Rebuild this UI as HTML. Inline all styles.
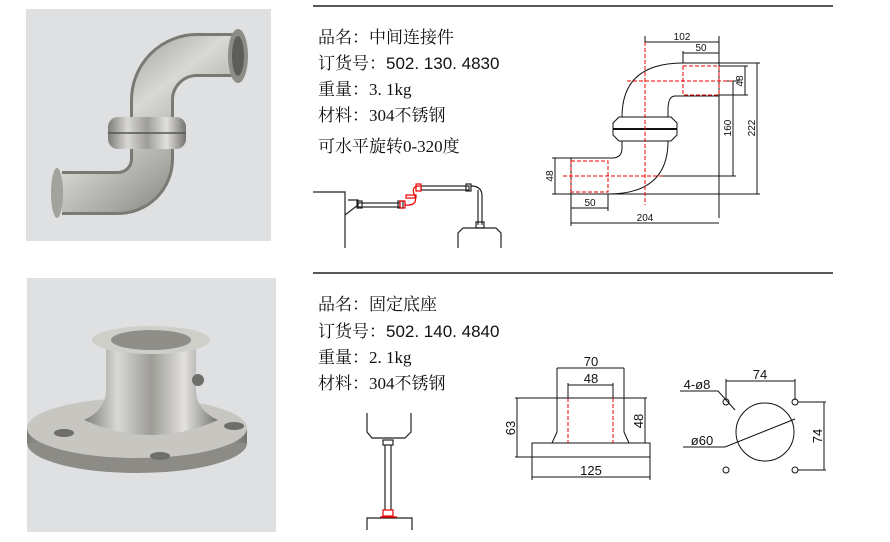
<!DOCTYPE html>
<html><head><meta charset="utf-8"><style>
html,body{margin:0;padding:0;background:#fff;}
body{width:890px;height:542px;position:relative;overflow:hidden;font-family:"Liberation Serif","Noto Serif CJK SC","Noto Sans CJK SC",serif;}
.t{position:absolute;left:318px;font-size:17px;color:#111;white-space:nowrap;line-height:19px;}
.t b{font-family:"Liberation Sans",sans-serif;font-weight:normal;}
</style></head><body>
<svg width="890" height="542" style="position:absolute;left:0;top:0" font-family="Liberation Sans, sans-serif">
<defs>
<linearGradient id="pg" x1="0" y1="0" x2="1" y2="1"><stop offset="0" stop-color="#8a8a88"/><stop offset=".4" stop-color="#d8d8d4"/><stop offset=".7" stop-color="#a8a7a2"/><stop offset="1" stop-color="#6f6e6a"/></linearGradient>
<linearGradient id="hg" x1="0" y1="0" x2="1" y2="0"><stop offset="0" stop-color="#7d7c78"/><stop offset=".25" stop-color="#d9d8d4"/><stop offset=".5" stop-color="#9d9c97"/><stop offset=".75" stop-color="#e2e1dd"/><stop offset="1" stop-color="#74736f"/></linearGradient>
</defs>
<line x1="313" y1="6" x2="833" y2="6" stroke="#222" stroke-width="1.5"/>
<line x1="313" y1="273" x2="833" y2="273" stroke="#222" stroke-width="1.5"/>
<!-- photo 1 -->
<rect x="26" y="9" width="245" height="232" fill="#dfe0e2"/>
<path d="M62 193 H118 A34 34 0 0 0 152 159 V100 A45 45 0 0 1 197 55 H238" fill="none" stroke="#7a7974" stroke-width="44"/>
<path d="M62 193 H118 A34 34 0 0 0 152 159 V100 A45 45 0 0 1 197 55 H238" fill="none" stroke="url(#pg)" stroke-width="38"/>
<ellipse cx="238" cy="56" rx="10" ry="27" fill="#8d8c87"/><ellipse cx="238" cy="56" rx="6" ry="20" fill="#5e5d59"/>
<ellipse cx="57" cy="193" rx="6" ry="25" fill="#a3a29d"/>
<rect x="108" y="117" width="78" height="32" rx="10" fill="url(#hg)"/>
<line x1="108" y1="133" x2="186" y2="133" stroke="#555" stroke-width="1.5"/>
<!-- photo 2 -->
<rect x="27" y="278" width="249" height="254" fill="#dfe0e2"/>
<ellipse cx="137" cy="443" rx="110" ry="30" fill="#8c8b86"/>
<rect x="27" y="428" width="220" height="15" fill="url(#hg)"/>
<ellipse cx="137" cy="428" rx="110" ry="30" fill="#c7c6c1"/>
<path d="M92 340 V390 Q92 410 70 420 Q137 450 204 420 Q182 410 182 390 V340 Z" fill="url(#hg)" transform="translate(14,0)"/>
<ellipse cx="151" cy="340" rx="59" ry="14" fill="#cfcfca"/>
<ellipse cx="151" cy="340" rx="40" ry="10" fill="#8f8e89"/>
<circle cx="198" cy="380" r="6" fill="#6e6d69"/>
<ellipse cx="64" cy="433" rx="10" ry="4" fill="#6e6d69"/><ellipse cx="234" cy="426" rx="10" ry="4" fill="#6e6d69"/><ellipse cx="160" cy="456" rx="10" ry="4" fill="#6e6d69"/>
<!-- installation sketch top -->
<g fill="none" stroke="#222" stroke-width="1.2">
<path d="M313 192 H345 V248"/>
<path d="M345 215 L358 205 V200 H348"/>
<rect x="358" y="203" width="42" height="4"/>
<rect x="357" y="201" width="5" height="7"/><rect x="398" y="201" width="5" height="7"/>
<rect x="421" y="186" width="48" height="4"/>
<rect x="466" y="184" width="5" height="7"/>
<path d="M471 186 Q482 186 482 196 V225 M478 190 V225"/>
<rect x="476" y="222" width="8" height="6"/>
<path d="M458 248 V233 L463 228 H496 L501 233 V248"/>
</g>
<g fill="none" stroke="#e00" stroke-width="1.2">
<path d="M405 205 Q418 206 415 196 Q410 186 420 186"/>
<rect x="400" y="201" width="5" height="7"/><rect x="416" y="184" width="5" height="7"/>
<rect x="406" y="195" width="10" height="3"/>
</g>
<!-- installation sketch bottom -->
<g fill="none" stroke="#222" stroke-width="1.2">
<path d="M367 413 V432 L372 438 H405 L411 432 V413"/>
<rect x="383" y="440" width="10" height="5"/>
<line x1="385" y1="445" x2="385" y2="510"/><line x1="391" y1="445" x2="391" y2="510"/>
<path d="M367 530 V518 H412 V530"/>
</g>
<g fill="none" stroke="#e00" stroke-width="1.2"><rect x="383" y="510" width="10" height="6"/><line x1="380" y1="517" x2="397" y2="517"/></g>
<!-- pipe drawing -->
<g fill="none" stroke="#111" stroke-width="1">
<path d="M683 63 H719 V96 H675 Q668 96 668 110 V117"/>
<path d="M683 63 Q622 63 622 117"/>
<path d="M613 123 L619 117 H671 L677 123 V135 L671 141 H619 L613 135 Z"/>
<line x1="613" y1="129" x2="677" y2="129" stroke-width="2"/>
<path d="M622 141 V148 Q622 158 612 158 H571 V194 H608 Q668 194 668 141"/>
<path d="M645 42 V36 M719 36 V218"/>
<line x1="645" y1="42" x2="719" y2="42"/>
<line x1="683" y1="53" x2="719" y2="53"/><line x1="683" y1="51" x2="683" y2="63"/>
<line x1="719" y1="66" x2="748" y2="66"/><line x1="719" y1="95" x2="748" y2="95"/><line x1="745" y1="66" x2="745" y2="95"/>
<line x1="740" y1="81" x2="724" y2="81"/><line x1="663" y1="176" x2="736" y2="176"/><line x1="733" y1="81" x2="733" y2="176"/>
<line x1="719" y1="63" x2="760" y2="63"/><line x1="608" y1="194" x2="760" y2="194"/><line x1="757" y1="63" x2="757" y2="194"/>
<line x1="552" y1="158" x2="571" y2="158"/><line x1="552" y1="194" x2="571" y2="194"/><line x1="555" y1="158" x2="555" y2="194"/>
<line x1="571" y1="194" x2="571" y2="226"/><line x1="608" y1="194" x2="608" y2="211"/>
<line x1="571" y1="208" x2="608" y2="208"/><line x1="571" y1="223" x2="719" y2="223"/>
</g>
<g fill="none" stroke="#e00" stroke-width="1" stroke-dasharray="4,2">
<line x1="645" y1="42" x2="645" y2="205"/>
<line x1="627" y1="81" x2="735" y2="81"/>
<line x1="563" y1="176" x2="663" y2="176"/>
<rect x="683" y="66" width="36" height="29"/>
<rect x="571" y="161" width="37" height="31"/>
</g>
<g font-size="10" fill="#111" text-anchor="middle">
<text x="682" y="40">102</text><text x="701" y="51">50</text><text x="590" y="206">50</text><text x="645" y="221">204</text>
<text transform="translate(743,81) rotate(-90)">48</text>
<text transform="translate(731,128) rotate(-90)">160</text>
<text transform="translate(755,128) rotate(-90)">222</text>
<text transform="translate(553,176) rotate(-90)">48</text>
</g>
<!-- base drawing -->
<g fill="none" stroke="#111" stroke-width="1">
<path d="M557 368 V432 L552 443 M624 368 V432 L629 443"/>
<rect x="532" y="443" width="118" height="14"/>
<line x1="557" y1="368" x2="624" y2="368"/>
<line x1="568" y1="385" x2="613" y2="385"/><line x1="568" y1="383" x2="568" y2="398"/><line x1="613" y1="383" x2="613" y2="398"/>
<line x1="515" y1="398" x2="647" y2="398"/>
<line x1="515" y1="457" x2="532" y2="457"/><line x1="517" y1="398" x2="517" y2="457"/>
<line x1="645" y1="398" x2="645" y2="443"/>
<line x1="532" y1="457" x2="532" y2="480"/><line x1="650" y1="457" x2="650" y2="480"/>
<line x1="532" y1="477" x2="650" y2="477"/>
<circle cx="726" cy="402" r="3"/><circle cx="795" cy="402" r="3"/><circle cx="726" cy="470" r="3"/><circle cx="795" cy="470" r="3"/>
<circle cx="765" cy="432" r="29"/>
<line x1="726" y1="381" x2="795" y2="381"/><line x1="726" y1="379" x2="726" y2="400"/><line x1="795" y1="379" x2="795" y2="400"/>
<line x1="798" y1="402" x2="826" y2="402"/><line x1="798" y1="470" x2="826" y2="470"/><line x1="824" y1="402" x2="824" y2="470"/>
<path d="M680 391 H718 L735 410"/>
<path d="M683 447 H725 L795 419"/>
</g>
<g fill="none" stroke="#e00" stroke-width="1" stroke-dasharray="4,2">
<line x1="568" y1="398" x2="568" y2="443"/><line x1="613" y1="398" x2="613" y2="443"/>
</g>
<g font-size="13" fill="#111" text-anchor="middle">
<text x="591" y="366">70</text><text x="591" y="383">48</text><text x="591" y="475">125</text>
<text x="760" y="379">74</text>
<text transform="translate(515,428) rotate(-90)">63</text>
<text transform="translate(643,421) rotate(-90)">48</text>
<text transform="translate(822,436) rotate(-90)">74</text>
<text x="697" y="389">4-ø8</text><text x="702" y="445">ø60</text>
</g>
</svg>
<div class="t" style="top:28px">品名：中间连接件</div>
<div class="t" style="top:54px">订货号：<b>502. 130. 4830</b></div>
<div class="t" style="top:80px">重量：3. 1kg</div>
<div class="t" style="top:106px">材料：304不锈钢</div>
<div class="t" style="top:137px">可水平旋转0-320度</div>
<div class="t" style="top:295px">品名：固定底座</div>
<div class="t" style="top:322px">订货号：<b>502. 140. 4840</b></div>
<div class="t" style="top:348px">重量：2. 1kg</div>
<div class="t" style="top:374px">材料：304不锈钢</div>
</body></html>
